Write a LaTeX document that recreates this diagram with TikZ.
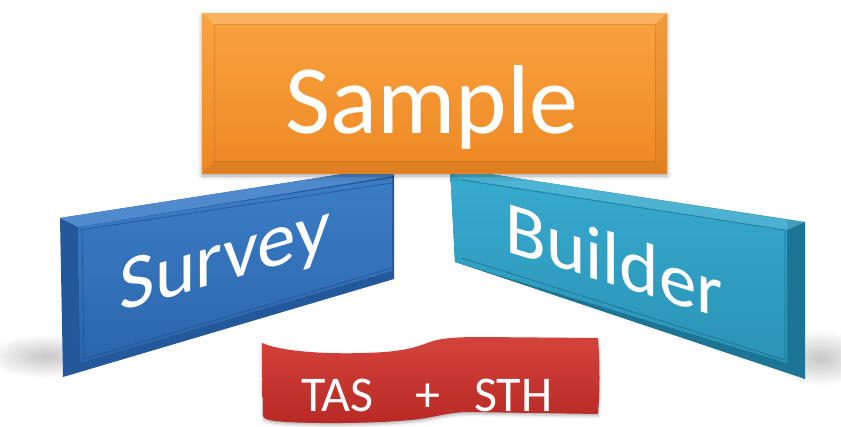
\documentclass[tikz,border=0pt]{standalone}
\usepackage{fontspec}
\setmainfont{Carlito}
\usetikzlibrary{shadows.blur}
\definecolor{orTop}{HTML}{FAA33F}
\definecolor{orBot}{HTML}{EE8824}
\definecolor{orEdge}{HTML}{E27E1C}
\definecolor{blTop}{HTML}{3B7DC6}
\definecolor{blBot}{HTML}{2B66AC}
\definecolor{blEdge}{HTML}{23589A}
\definecolor{tlTop}{HTML}{37ABCF}
\definecolor{tlBot}{HTML}{2A93B6}
\definecolor{tlEdge}{HTML}{1D7595}
\definecolor{rdTop}{HTML}{D4433B}
\definecolor{rdBot}{HTML}{B82925}
\tikzset{
  wtxt/.style={text=white, inner sep=0pt, anchor=base},
  bevelline/.style={line width=0.7pt, opacity=0.55},
}
\begin{document}
\begin{tikzpicture}[x=1pt,y=-1pt]
\useasboundingbox (0,0) rectangle (841,426);
% soft shadows
\shade[inner color=black!22, outer color=white] (45,356) ellipse [x radius=60, y radius=22];
\shade[inner color=black!22, outer color=white] (820,358) ellipse [x radius=50, y radius=28];
% Survey panel
\fill[blEdge] (60,218) -- (394,166) -- (394,279) -- (63,377) -- cycle;
\fill[blTop!90!white] (60,218) -- (394,166) -- (394,176) -- (78,227) -- cycle;
\shade[top color=blTop, bottom color=blBot] (78,227) -- (392,178) -- (392,271) -- (80,363) -- cycle;
\draw[blEdge!70!black, bevelline] (80,230) -- (392,183) (82,230) -- (84,359) -- (392,268);
\begin{scope}[shift={(225,281)}, yslant=0.29]
  \node[wtxt, font=\fontsize{77}{80}\selectfont, transform shape] (survey) at (0,0) {Survey};
\end{scope}
% Builder panel
\fill[tlEdge] (450,168) -- (805,222) -- (805,379) -- (455,262) -- cycle;
\shade[top color=tlTop, bottom color=tlBot] (450,168) -- (787,220) -- (787,363) -- (455,262) -- cycle;
\fill[tlTop!80!white, opacity=0.6] (450,168) -- (805,222) -- (787,230) -- (458,178) -- cycle;
\draw[tlEdge!70!black, bevelline] (462,180) -- (785,230) -- (785,360) (462,258) -- (785,360);
\begin{scope}[shift={(614,285)}, yslant=-0.31]
  \node[wtxt, font=\fontsize{75}{78}\selectfont, transform shape] (builder) at (0,0) {Builder};
\end{scope}
% Sample box
\fill[orEdge, blur shadow={shadow xshift=0pt, shadow yshift=-3pt, shadow blur radius=4pt, shadow opacity=35}] (202,13) rectangle (667,173);
\shade[top color=orTop, bottom color=orBot] (202,13) rectangle (667,173);
\fill[white, opacity=0.18] (202,13) -- (667,13) -- (655,24) -- (214,24) -- cycle;
\fill[black, opacity=0.07] (202,173) -- (667,173) -- (655,161) -- (214,161) -- cycle;
\fill[black, opacity=0.04] (667,13) -- (667,173) -- (655,161) -- (655,24) -- cycle;
\draw[orEdge!80!black, bevelline, opacity=0.35] (214,24) rectangle (655,161);
\node[wtxt, font=\fontsize{98}{100}\selectfont] (sample) at (432,133) {Sample};
% TAS + STH banner
\shade[top color=rdTop, bottom color=rdBot, blur shadow={shadow xshift=0pt, shadow yshift=-2pt, shadow blur radius=3pt, shadow opacity=30}]
  (262,343) .. controls (285,353) and (340,355) .. (385,352)
  .. controls (410,350) and (422,345) .. (433,341)
  .. controls (443,338) and (460,337) .. (480,337)
  -- (598,338) .. controls (600,365) and (600,390) .. (598,414)
  -- (470,412) .. controls (450,412) and (440,416) .. (420,419)
  .. controls (380,424) and (300,424) .. (275,421)
  .. controls (268,420) and (264,419) .. (263,416) -- cycle;
\node[wtxt, font=\fontsize{50}{52}\selectfont] (tassth) at (427,411) {TAS\hspace{0.83em}+\hspace{0.68em}STH};
\end{tikzpicture}
\end{document}
